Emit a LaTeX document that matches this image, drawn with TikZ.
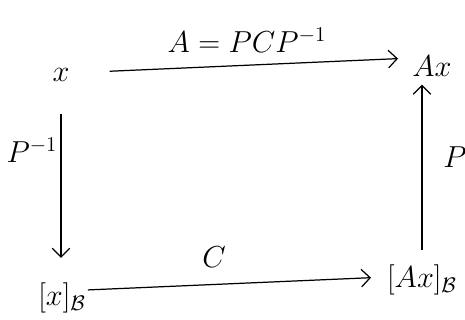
\documentclass[tikz,border=0pt]{standalone}
\usetikzlibrary{arrows.meta}
\begin{document}
\begin{tikzpicture}[x=0.02cm,y=-0.02cm,
  lbl/.style={font=\fontsize{17}{20}\selectfont, inner sep=0pt},
  obj/.style={font=\fontsize{17}{20}\selectfont, inner sep=0pt},
  arr/.style={line width=0.7pt, -{Straight Barb[length=5pt,width=10pt]}}]
\useasboundingbox (0,0) rectangle (465,320);
\node[obj] (x) at (61,75) {$x$};
\node[obj] (Ax) at (432,66) {$Ax$};
\node[obj] (xB) at (62,298) {$[x]_{\mathcal B}$};
\node[obj] (AxB) at (422,280) {$[Ax]_{\mathcal B}$};
\node[lbl] (t) at (247,40) {$A=PCP^{-1}$};
\node[lbl] (l) at (32,150) {$P^{-1}$};
\node[lbl] (r) at (455,157) {$P$};
\node[lbl] (b) at (214,257) {$C$};
\draw[arr, shorten <=22.7pt, shorten >=8pt] ([yshift=0.04cm]x.east) -- ([yshift=0.16cm]Ax.west);
\draw[arr, shorten <=18pt, shorten >=14pt] (x.south) -- (x.south |- xB.north);
\draw[arr, shorten <=8pt, shorten >=4.5pt] (AxB.north) -- (AxB.north |- Ax.south);
\draw[arr, shorten <=1pt, shorten >=9pt] ([yshift=0.16cm]xB.east) -- ([yshift=0.06cm]AxB.west);
\end{tikzpicture}
\end{document}
